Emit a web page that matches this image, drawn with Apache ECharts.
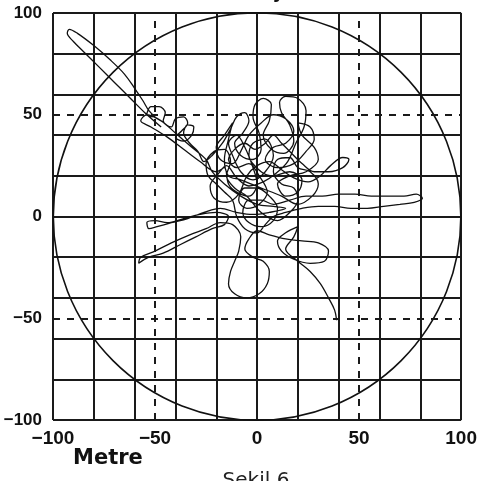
<!DOCTYPE html>
<html>
<head>
<meta charset="utf-8">
<script src="https://cdn.jsdelivr.net/npm/echarts@6/dist/echarts.min.js"></script>
<style>html,body{margin:0;padding:0;background:#fff;}#c{width:480px;height:481px;}</style>
</head>
<body>
<div id="c"></div>
<script>
// ---- data (metres) ----
const axisMin = -100, axisMax = 100;
const gridStep = 20;
const labelStep = 50;
const dashedAt = [-50, 50];
const circleData = [[0, 0, 100]];

const westArm = [[-47,44],[-55,51],[-62,58],[-70,66],[-78,74],[-85,81],[-90,86],[-93,90],[-92,92],[-88,90],[-80,84],[-72,77],[-65,70],[-60,63],[-56,57],[-53,52]];
const westLoops = [[-50,49],[-54,50],[-52,54],[-48,54],[-45,51],[-46,47],[-42,44],[-40,48],[-36,49],[-34,46],[-37,42],[-40,39],[-36,37],[-32,40],[-31,44],[-34,45],[-36,41],[-33,36],[-29,32],[-26,27]];
const central = [[-22,30],[-17,36],[-13,43],[-10,49],[-6,51],[-4,47],[-7,41],[-11,36],[-8,30],[-2,28],[2,33],[1,41],[-2,49],[-1,55],[3,58],[7,55],[6,47],[3,40],[7,33],[13,31],[18,37],[16,45],[12,51],[11,56],[14,59],[20,58],[24,52],[23,44],[19,36],[15,27],[9,21],[3,17],[-4,15],[-10,19],[-15,25],[-19,21],[-23,15],[-21,9],[-15,7],[-9,11],[-5,20],[0,25],[6,27],[12,23],[18,19],[25,17],[31,20],[36,25],[42,29],[45,28],[42,24],[35,22],[28,22],[22,26],[17,31],[12,36],[8,40],[4,36],[-1,33],[-6,36],[-11,33],[-14,28],[-10,24],[-4,26],[1,20],[5,12],[1,6],[-5,4],[-9,8],[-6,14],[0,14],[6,10],[10,4],[8,-2],[2,-5],[-4,-3],[-7,2],[-4,8],[2,8]];
const eastArm = [[8,6],[16,8],[24,10],[32,10],[40,11],[48,11],[56,10],[64,10],[72,10],[78,11],[81,9],[77,7],[70,6],[62,5],[54,4],[46,4],[38,5],[30,5],[22,4],[14,2],[8,0]];
const central2 = [[4,-4],[0,-8],[-6,-6],[-10,0],[-12,8],[-16,12],[-20,16],[-24,20],[-25,26],[-21,32],[-16,33],[-13,27],[-15,20],[-11,14],[-5,10],[2,2],[10,-2],[16,2],[20,8],[18,14],[12,16],[8,22],[10,28],[16,29],[20,24],[26,22],[30,16],[27,10],[20,6],[12,10],[2,14],[-8,18],[-14,20]];
const central3 = [[-16,28],[-14,38],[-12,46],[-16,40],[-20,34],[-18,28],[-12,26],[-8,32],[-4,40],[2,46],[8,50],[14,48],[18,42],[14,36],[8,34],[4,28],[10,24],[18,26],[24,32],[28,38],[26,44],[20,46],[22,40],[28,34],[30,28],[24,22],[16,20],[10,16],[14,10],[20,12],[22,18],[16,22],[8,20],[2,22],[-4,30],[-2,36],[4,38],[8,30],[4,22],[-2,18],[-8,22],[-12,30],[-14,36],[-10,40],[-6,34],[-2,24],[0,16],[-4,10],[-10,12],[-14,16],[-16,24]];
const westReturn = [[-20,22],[-28,27],[-36,33],[-44,39],[-52,44],[-57,47],[-54,50],[-47,47],[-40,41],[-32,34],[-25,28],[-22,22],[-16,16],[-8,10],[0,6],[8,5]];
const swArm = [[14,4],[6,2],[-2,1],[-10,2],[-18,4],[-26,2],[-34,-1],[-42,-3],[-49,-5],[-53,-6],[-54,-3],[-50,-2],[-44,-3],[-36,-1],[-28,1],[-20,2],[-14,0],[-16,-4],[-22,-6],[-30,-10],[-38,-14],[-46,-18],[-53,-20],[-58,-23],[-57,-20],[-50,-17],[-42,-13],[-33,-9],[-25,-6],[-18,-3],[-12,-4]];
const southLoop = [[-8,-10],[-9,-17],[-11,-22],[-13,-27],[-14,-33],[-11,-38],[-5,-40],[1,-38],[5,-33],[6,-27],[3,-22],[-2,-20],[-6,-16],[-4,-11],[0,-7]];
const southEast = [[6,-9],[14,-11],[22,-12],[30,-13],[35,-17],[33,-22],[26,-23],[18,-21],[12,-17],[10,-12],[14,-8],[20,-5],[18,-10],[14,-16],[20,-22],[26,-27],[31,-33],[35,-40],[38,-46],[39,-51]];

const track = [].concat(westArm, westLoops, central, eastArm, central2, central3, westReturn, swArm, southLoop, southEast);

const titleText = 'Kuzey';
const unitText = 'Metre';
const captionText = 'Şekil 6';

// ---- chart ----
const chart = echarts.init(document.getElementById('c'), null, {renderer: 'canvas'});
const fmt = v => (v < 0 ? '\u2212' + Math.abs(v) : String(v));
const gridLineStyle = {color: '#1a1a1a', width: 2};
const labelFont = 'Liberation Sans, Arial, sans-serif';

chart.setOption({
  animation: false,
  backgroundColor: '#ffffff',
  grid: {left: 53, right: 17, top: 13, bottom: 61, containLabel: false},
  xAxis: [
    {type: 'value', min: axisMin, max: axisMax, interval: gridStep,
     axisLine: {show: true, lineStyle: gridLineStyle}, axisTick: {show: false},
     axisLabel: {show: false}, splitLine: {show: true, lineStyle: gridLineStyle}},
    {type: 'value', min: axisMin, max: axisMax, interval: labelStep, position: 'bottom',
     axisLine: {show: false}, axisTick: {show: false}, splitLine: {show: false},
     axisLabel: {show: true, formatter: fmt, margin: 9, color: '#111', fontSize: 19, fontWeight: 'bold', fontFamily: labelFont}}
  ],
  yAxis: [
    {type: 'value', min: axisMin, max: axisMax, interval: gridStep,
     axisLine: {show: true, lineStyle: gridLineStyle}, axisTick: {show: false},
     axisLabel: {show: false}, splitLine: {show: true, lineStyle: gridLineStyle}},
    {type: 'value', min: axisMin, max: axisMax, interval: labelStep, position: 'left',
     axisLine: {show: false}, axisTick: {show: false}, splitLine: {show: false},
     axisLabel: {show: true, formatter: fmt, margin: 11, color: '#111', fontSize: 17, fontWeight: 'bold', fontFamily: labelFont}}
  ],
  series: [
    {
      type: 'custom', xAxisIndex: 0, yAxisIndex: 0, data: circleData, z: 3,
      renderItem: function (params, api) {
        const c = api.coord([api.value(0), api.value(1)]);
        const s = api.size([api.value(2), api.value(2)]);
        return {type: 'circle', shape: {cx: c[0], cy: c[1], r: (s[0] + s[1]) / 2},
                style: {fill: 'none', stroke: '#111', lineWidth: 1.6}};
      }
    },
    {
      type: 'line', xAxisIndex: 0, yAxisIndex: 0, data: track, z: 4,
      showSymbol: false, smooth: 0.35,
      lineStyle: {color: '#111', width: 1.3},
      markLine: {
        silent: true, symbol: 'none', label: {show: false},
        lineStyle: {color: '#1a1a1a', width: 2, type: [7, 7]},
        data: dashedAt.map(v => ({xAxis: v})).concat(dashedAt.map(v => ({yAxis: v})))
      }
    }
  ],
  graphic: [
    {type: 'text', style: {text: titleText, x: 255, y: 2, textAlign: 'center', textVerticalAlign: 'bottom', font: 'bold 20px Liberation Sans, Arial, sans-serif', fill: '#111'}},
    {type: 'text', style: {text: unitText, x: 73, y: 459, textAlign: 'left', textVerticalAlign: 'middle', font: 'bold 21px DejaVu Sans, sans-serif', fill: '#111'}},
    {type: 'text', style: {text: captionText, x: 256, y: 481, textAlign: 'center', textVerticalAlign: 'middle', font: '20px DejaVu Sans, sans-serif', fill: '#222'}}
  ]
});
</script>
</body>
</html>
